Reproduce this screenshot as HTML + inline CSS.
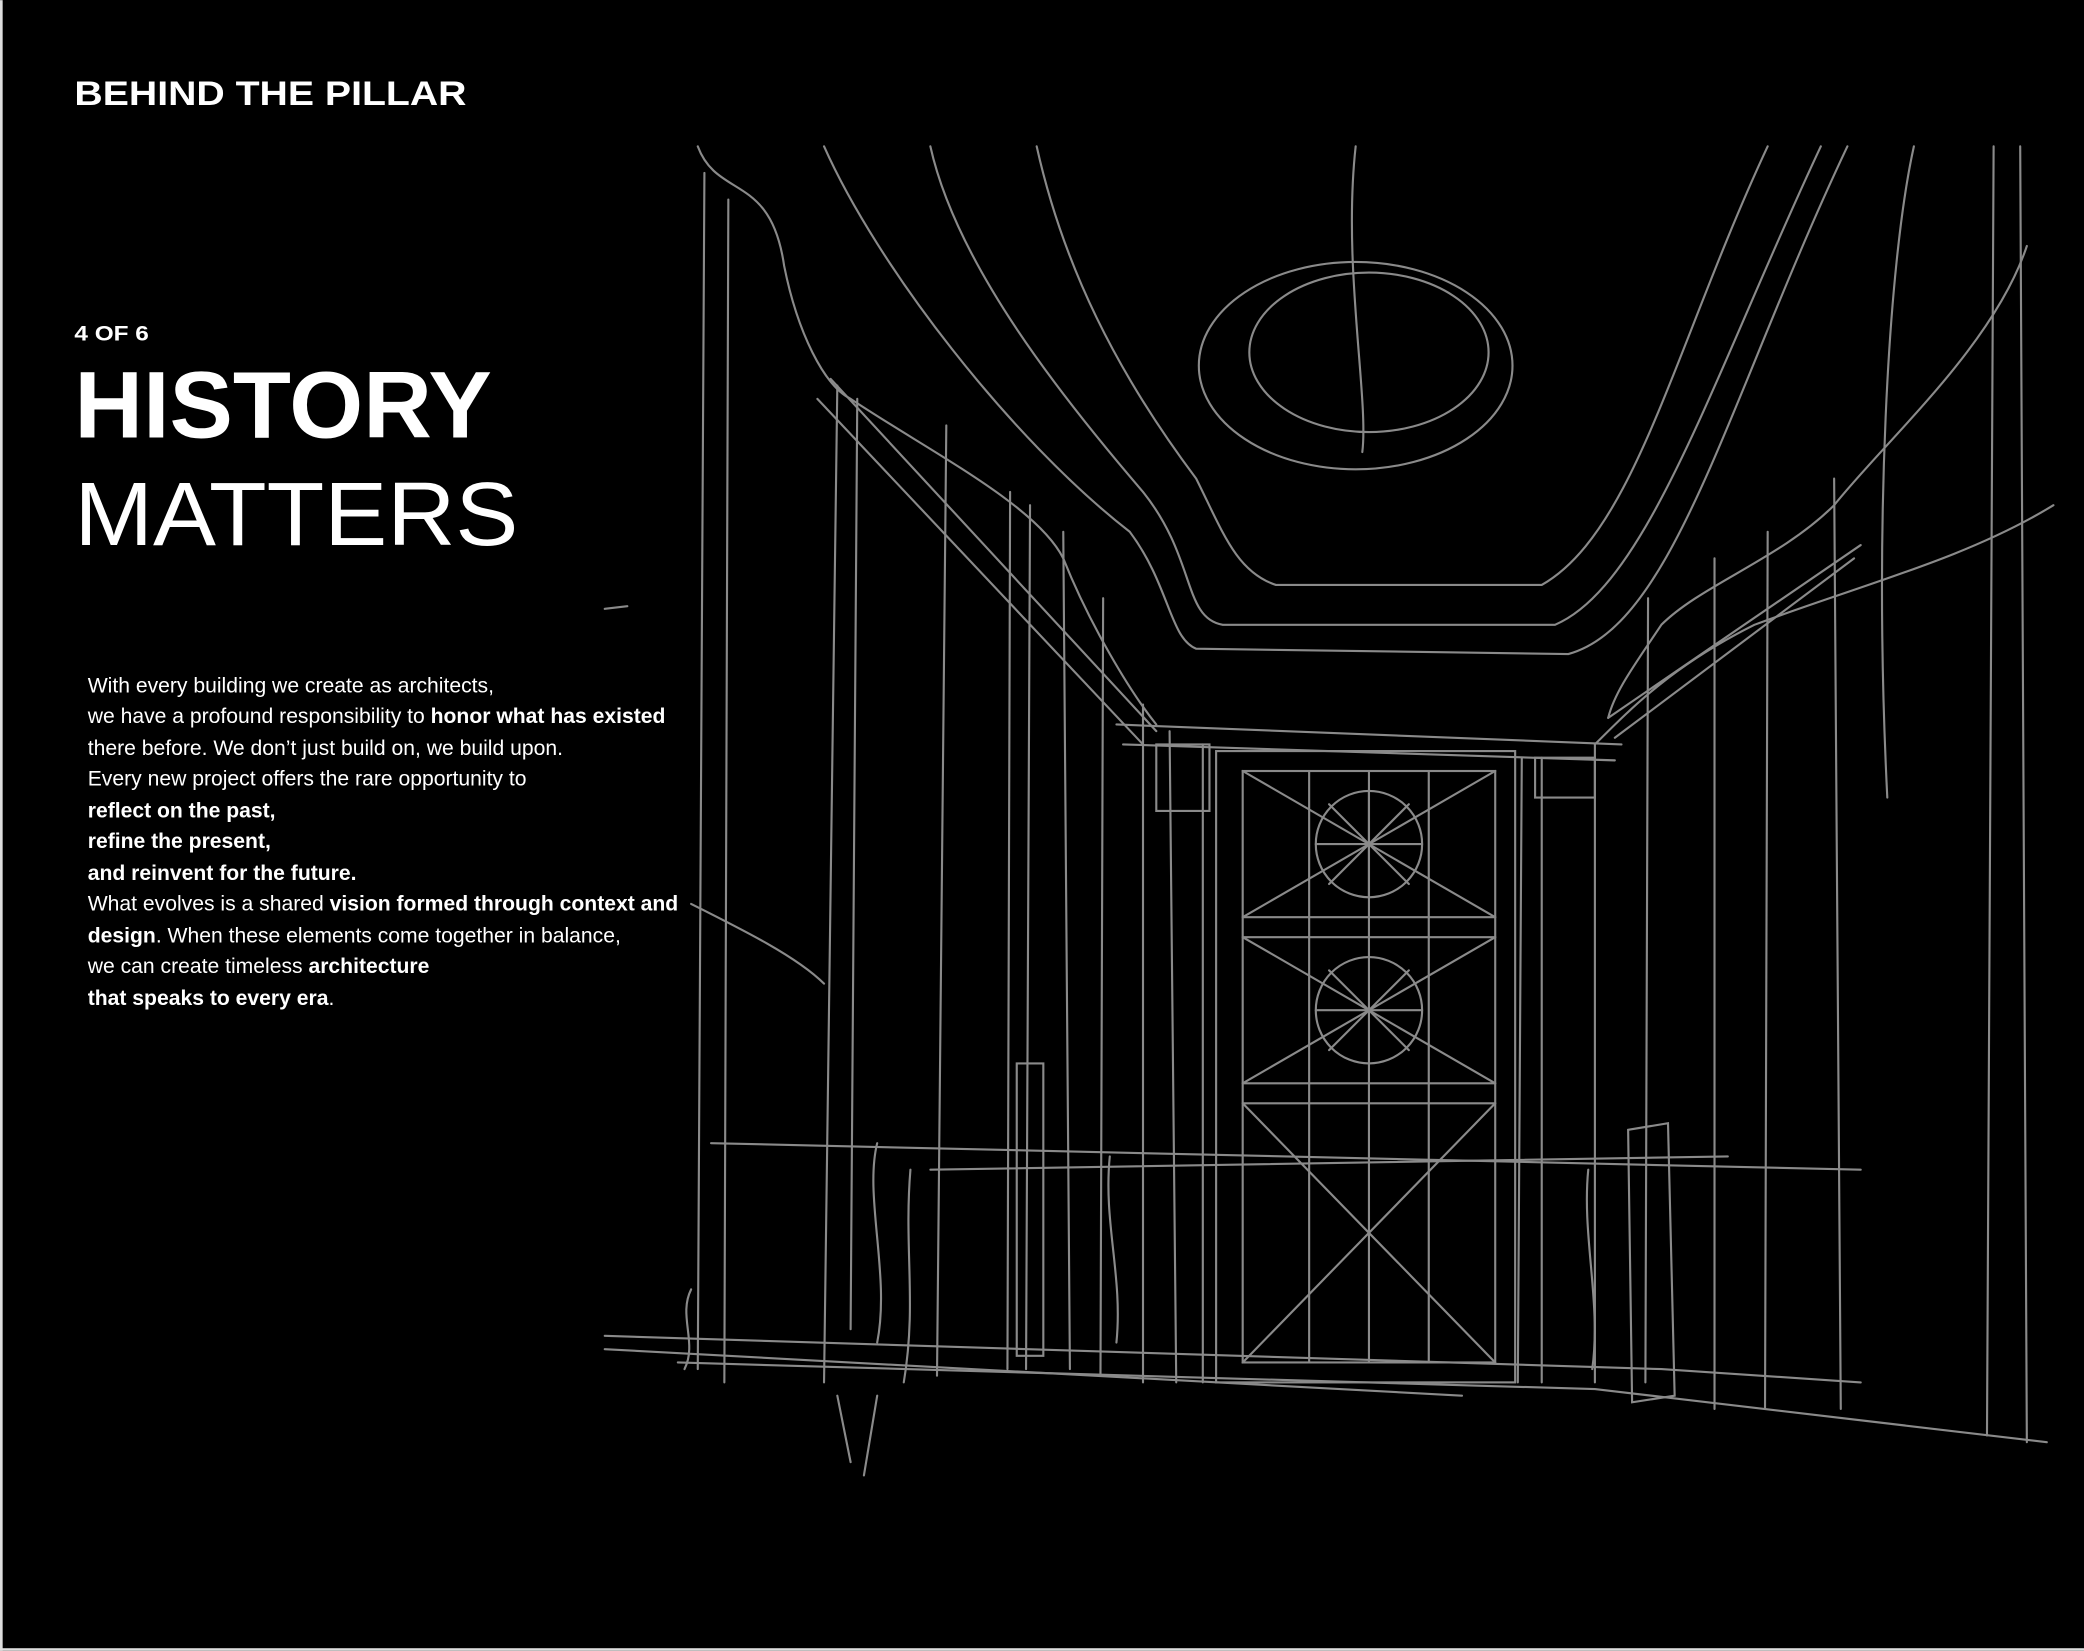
<!DOCTYPE html>
<html><head><meta charset="utf-8"><style>
html,body{margin:0;padding:0;background:#000;width:2084px;height:1651px;overflow:hidden}
svg{display:block}
</style></head><body>
<svg width="2084" height="1651" viewBox="0 0 1568 1242" xmlns="http://www.w3.org/2000/svg">
<rect width="1568" height="1242" fill="#000"/>
<rect x="0" y="0" width="2" height="1242" fill="#ddd"/>
<rect x="0" y="1240" width="1568" height="2" fill="#ddd"/>
<g font-family="Liberation Sans, sans-serif" fill="#fff">
<text x="56" y="79" font-size="26" font-weight="bold" textLength="295" lengthAdjust="spacingAndGlyphs">BEHIND THE PILLAR</text>
<text x="56" y="256" font-size="16" font-weight="bold" textLength="56" lengthAdjust="spacingAndGlyphs">4 OF 6</text>
<text x="56" y="329" font-size="71" font-weight="bold" textLength="314" lengthAdjust="spacingAndGlyphs">HISTORY</text>
<text x="56" y="410" font-size="68" textLength="334" lengthAdjust="spacingAndGlyphs">MATTERS</text>
<g font-size="15.9">
<text x="66" y="521">With every building we create as architects,</text>
<text x="66" y="544">we have a profound responsibility to <tspan font-weight="bold">honor what has existed</tspan></text>
<text x="66" y="568">there before. We don’t just build on, we build upon.</text>
<text x="66" y="591">Every new project offers the rare opportunity to</text>
<text x="66" y="615" font-weight="bold">reflect on the past,</text>
<text x="66" y="638" font-weight="bold">refine the present,</text>
<text x="66" y="662" font-weight="bold">and reinvent for the future.</text>
<text x="66" y="685">What evolves is a shared <tspan font-weight="bold">vision formed through context and</tspan></text>
<text x="66" y="709"><tspan font-weight="bold">design</tspan>. When these elements come together in balance,</text>
<text x="66" y="732">we can create timeless <tspan font-weight="bold">architecture</tspan></text>
<text x="66" y="756"><tspan font-weight="bold">that speaks to every era</tspan>.</text>
</g></g>
<g fill="none" stroke="#8a8a8a" stroke-width="1.6" stroke-linecap="round">
<path d="M620 110 C660 200 760 330 850 400 C880 440 880 480 900 488 L1180 492 C1260 470 1300 300 1390 110"/>
<path d="M700 110 C720 200 800 300 860 370 C900 420 890 465 920 470 L1170 470 C1240 440 1290 280 1370 110"/>
<path d="M780 110 C800 200 840 280 900 360 C920 400 930 430 960 440 L1160 440 C1230 400 1260 260 1330 110"/>
<path d="M525 110 C540 150 580 130 590 200 C600 250 620 290 640 300 C700 340 780 380 800 420 C820 470 850 520 870 545"/>
<path d="M1525 185 C1500 260 1420 330 1380 380 C1340 420 1280 440 1250 470 C1230 500 1215 520 1210 540"/>
<path d="M1545 380 C1480 420 1400 440 1320 470 C1260 500 1230 530 1200 560"/>
<ellipse cx="1020" cy="275" rx="118" ry="78"/>
<ellipse cx="1030" cy="265" rx="90" ry="60"/>
<path d="M1020 110 C1010 200 1030 300 1025 340"/>
<path d="M625 285 L870 550"/><path d="M615 300 L860 560"/>
<path d="M1210 540 L1400 410"/><path d="M1215 555 L1395 420"/>
<path d="M840 545 L1220 560"/><path d="M845 560 L1215 572"/>
<path d="M530 130 L525 1030"/><path d="M548 150 L545 1040"/>
<path d="M630 290 L620 1040"/><path d="M645 300 L640 1000"/>
<path d="M712 320 L705 1035"/><path d="M760 370 L758 1030"/><path d="M775 380 L772 1030"/>
<path d="M800 400 L805 1030"/><path d="M830 450 L828 1035"/><path d="M860 530 L860 1040"/>
<path d="M880 550 L885 1040"/><path d="M905 560 L905 1040"/>
<path d="M1145 570 L1142 1040"/><path d="M1160 570 L1160 1040"/><path d="M1200 560 L1200 1040"/>
<path d="M1240 450 L1238 1040"/><path d="M1290 420 L1290 1060"/><path d="M1330 400 L1328 1060"/>
<path d="M1380 360 L1385 1060"/><path d="M1500 110 L1495 1080"/><path d="M1520 110 L1525 1085"/>
<path d="M1440 110 C1420 200 1410 400 1420 600"/>
<rect x="915" y="565" width="225" height="475"/>
<rect x="935" y="580" width="190" height="445"/>
<path d="M935 690 L1125 690 M935 705 L1125 705 M935 815 L1125 815 M935 830 L1125 830"/>
<path d="M1030 580 L1030 1025 M985 580 L985 1025 M1075 580 L1075 1025"/>
<path d="M935 580 L1125 690 M1125 580 L935 690 M935 705 L1125 815 M1125 705 L935 815 M935 830 L1125 1025 M1125 830 L935 1025"/>
<circle cx="1030" cy="635" r="40"/><circle cx="1030" cy="760" r="40"/>
<path d="M990 635 L1070 635 M1030 595 L1030 675 M1000 605 L1060 665 M1060 605 L1000 665"/>
<path d="M990 760 L1070 760 M1000 730 L1060 790 M1060 730 L1000 790"/>
<path d="M870 560 L910 560 L910 610 L870 610 Z"/>
<path d="M1155 570 L1200 570 L1200 600 L1155 600 Z"/>
<path d="M765 800 L785 800 L785 1020 L765 1020 Z"/>
<path d="M1225 850 L1255 845 L1260 1050 L1228 1055 Z"/>
<path d="M455 1005 L1250 1030 L1400 1040"/>
<path d="M510 1025 L1200 1045 L1540 1085"/>
<path d="M455 1015 L1100 1050"/>
<path d="M535 860 L1400 880"/>
<path d="M700 880 L1300 870"/>
<path d="M455 458 L472 456"/>
<path d="M660 860 C650 900 670 960 660 1010 M685 880 C680 940 690 980 680 1040"/>
<path d="M835 870 C830 920 845 960 840 1010"/>
<path d="M1195 880 C1190 930 1205 980 1198 1030"/>
<path d="M630 1050 L640 1100 M660 1050 L650 1110"/>
<path d="M520 970 C510 990 525 1010 515 1030"/>
<path d="M520 680 C560 700 600 720 620 740"/>
</g>
</svg>
</body></html>
